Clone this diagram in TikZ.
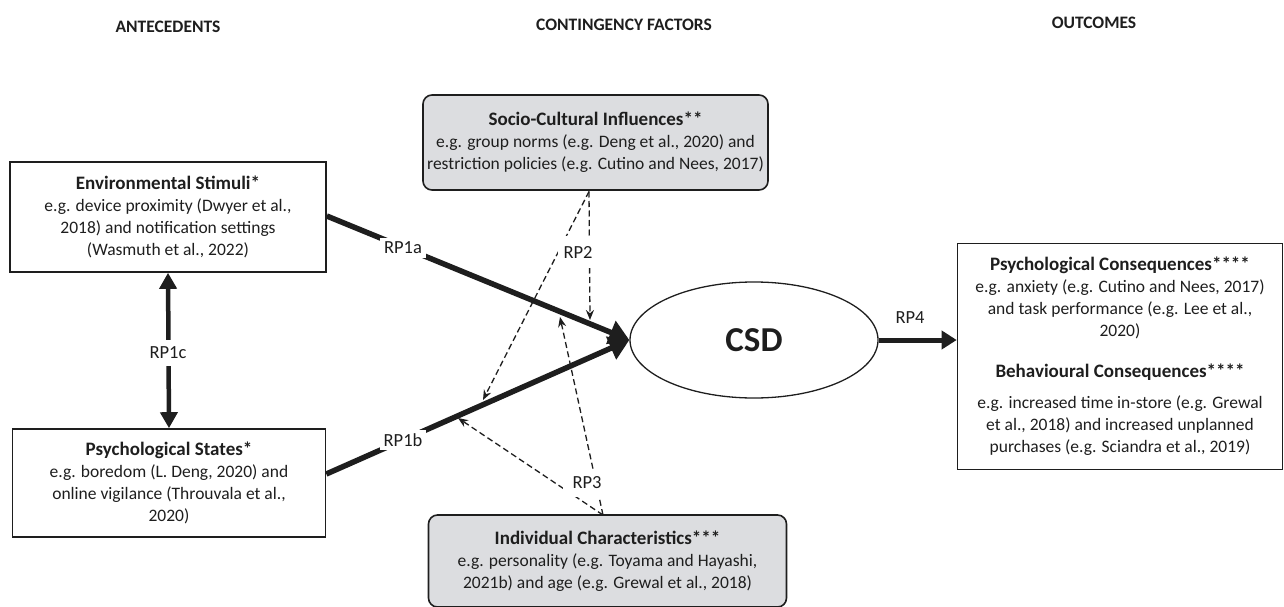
\documentclass[tikz,border=0pt]{standalone}
\usepackage{fontspec}
\setmainfont{Carlito}
\usetikzlibrary{arrows.meta,calc,shapes.geometric}
\definecolor{boxgray}{HTML}{DCDDE0}
\definecolor{ink}{HTML}{1E1E1E}
\begin{document}
\begin{tikzpicture}[x=1pt,y=-1pt,
  txt/.style={font=\fontsize{17.5}{22}\selectfont, text=ink},
  box/.style={txt, draw=ink, line width=1.6pt, align=center, inner sep=0pt},
  gbox/.style={box, fill=boxgray, rounded corners=9pt},
  hdr/.style={font=\fontsize{17.5}{20}\selectfont\bfseries, text=ink},
  rplab/.style={font=\fontsize{18.5}{20}\selectfont, text=ink, fill=white, inner sep=4pt},
  bigarrow/.style={draw=ink, line width=5.5pt, -{Triangle[length=20pt,width=24pt]}},
  midarrow/.style={draw=ink, line width=4.5pt, {Triangle[length=16pt,width=17pt]}-{Triangle[length=16pt,width=17pt]}},
  outarrow/.style={draw=ink, line width=5pt, -{Triangle[length=15pt,width=18pt]}},
  dasharrow/.style={draw=ink, line width=1.3pt, dash pattern=on 6pt off 3.5pt, -{Stealth[length=10pt,width=8pt]}}]
\useasboundingbox (0,0) rectangle (1284,607);
\newcommand{\tf}{\fontsize{19}{22}\selectfont\bfseries}

% headers
\node[hdr] (h1) at (168,27) {ANTECEDENTS};
\node[hdr] (h2) at (624,25) {CONTINGENCY FACTORS};
\node[hdr] (h3) at (1094,23) {OUTCOMES};

% boxes
\node[box, minimum width=316pt, minimum height=110pt] (env) at (168,217)
  {{\tf Environmental Stimuli*}\\e.g. device proximity (Dwyer et al.,\\2018) and notification settings\\(Wasmuth et al., 2022)};
\node[box, minimum width=313pt, minimum height=108pt] (psy) at (169,483)
  {{\tf Psychological States*}\\e.g. boredom (L. Deng, 2020) and\\online vigilance (Throuvala et al.,\\2020)};
\node[gbox, minimum width=345pt, minimum height=95pt] (soc) at (595.5,142.5)
  {{\tf Socio-Cultural Influences**}\\e.g. group norms (e.g. Deng et al., 2020) and\\restriction policies (e.g. Cutino and Nees, 2017)};
\node[gbox, minimum width=358pt, minimum height=92pt] (ind) at (607.5,561)
  {{\tf Individual Characteristics***}\\e.g. personality (e.g. Toyama and Hayashi,\\2021b) and age (e.g. Grewal et al., 2018)};
\node[box, minimum width=325pt, minimum height=226pt] (out) at (1120,356.5)
  {{\tf Psychological Consequences****}\\e.g. anxiety (e.g. Cutino and Nees, 2017)\\and task performance (e.g. Lee et al.,\\2020)\\[19pt]{\tf Behavioural Consequences****}\\[9pt]e.g. increased time in-store (e.g. Grewal\\et al., 2018) and increased unplanned\\purchases (e.g. Sciandra et al., 2019)};

\node[draw=ink, line width=1.3pt, ellipse, minimum width=248pt, minimum height=116pt, inner sep=0pt,
      font=\fontsize{35}{35}\selectfont\bfseries, text=ink] (csd) at (754,340) {CSD};

% coordinates
\coordinate (e1) at (env.east |- 0,216);
\coordinate (p1) at (psy.east |- 0,474);
\coordinate (tip) at (csd.west);
\coordinate (sb) at (589,191.5);
\coordinate (ib) at (603,515);
\coordinate (t2a) at (590,320);
\coordinate (t2b) at (483,400);
\coordinate (t3a) at (560,317);
\coordinate (t3b) at (458,418);

% main arrows
\draw[bigarrow] (e1) -- (tip);
\draw[bigarrow] (p1) -- (tip);
\draw[midarrow] (env.south) -- (psy.north);
\draw[outarrow] (csd.east) -- (out.west |- csd.east);

% dashed arrows
\draw[dasharrow] (sb) -- (t2a);
\draw[dasharrow] (sb) -- (t2b);
\draw[dasharrow] (ib) -- (t3a);
\draw[dasharrow] (ib) -- (t3b);

% labels
\node[rplab] (l1a) at (403,248) {RP1a};
\node[rplab] (l1b) at (403,440) {RP1b};
\node[rplab, inner ysep=7pt] (l1c) at (168,353) {RP1c};
\node[rplab, inner xsep=6pt, inner ysep=10pt] (l2) at (578,252) {RP2};
\node[rplab, inner xsep=10pt, inner ysep=8pt] (l3) at (587,483) {RP3};
\node[font=\fontsize{18.5}{20}\selectfont, text=ink] (l4) at (910,318) {RP4};
\end{tikzpicture}
\end{document}
